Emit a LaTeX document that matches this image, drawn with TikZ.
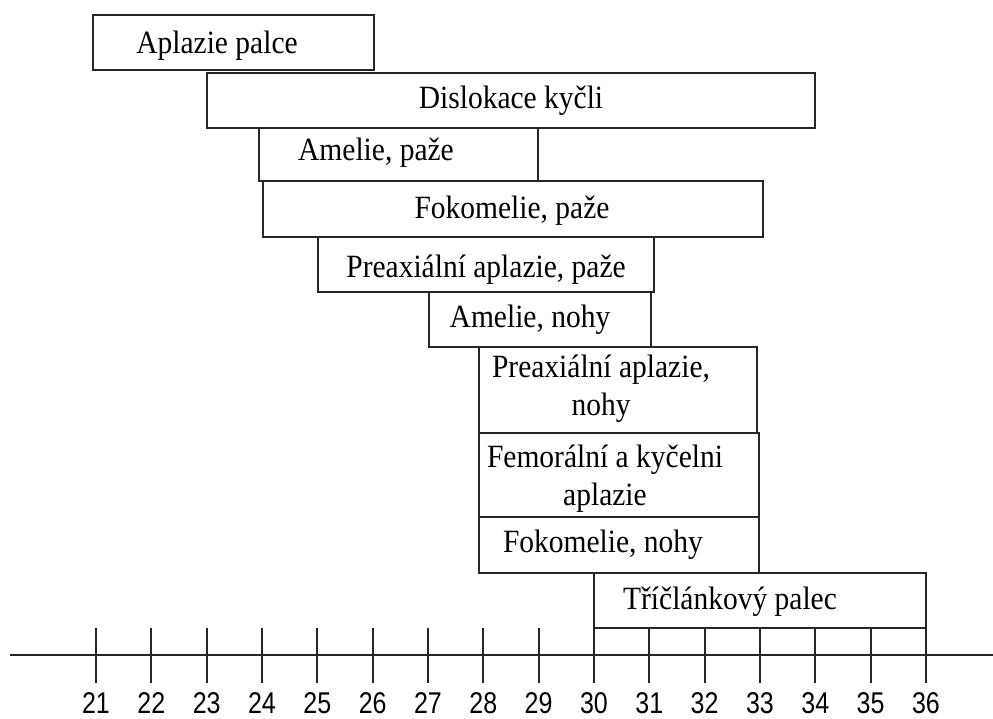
\documentclass[tikz,border=0pt]{standalone}
\usepackage{graphicx}
\usepackage{fontspec}
\setmainfont{Liberation Serif}
\newfontfamily\axisfont{Liberation Sans}
\usetikzlibrary{positioning}

% the source text is a little taller than wide
\newcommand{\tall}[1]{\scalebox{1}[1.1]{#1}}

\tikzset{
  bar/.style={draw=black!85, line width=2.2pt},
  lbl/.style={anchor=base, inner sep=0pt, align=center, font=\fontsize{29.5}{38}\selectfont},
  tick/.style={draw=black!85, line width=2pt},
  num/.style={anchor=base, inner sep=0pt, font=\axisfont\fontsize{25}{25}\selectfont}
}

\begin{document}
\begin{tikzpicture}[x=1pt,y=-1pt]
\useasboundingbox (0,0) rectangle (993,718);

% time bars
\draw[bar] (93,15) rectangle (374,70);
\draw[bar] (207,73) rectangle (815,128);
\draw[bar] (259,128) rectangle (538,181);
\draw[bar] (263,181) rectangle (763,237);
\draw[bar] (318,237) rectangle (654,292);
\draw[bar] (429,292) rectangle (651,347);
\draw[bar] (479,347) rectangle (757,433);
\draw[bar] (479,433) rectangle (759,517);
\draw[bar] (479,517) rectangle (759,573);
\draw[bar] (594,573) rectangle (926,628);

% base is the last line of a node
\node[lbl] (palce) at (217,53) {\tall{Aplazie palce}};
\node[lbl] (kycli) at (511,108) {\tall{Dislokace kyčli}};
\node[lbl] (amepaze) at (376,160) {\tall{Amelie, paže}};
\node[lbl] (fokpaze) at (512,218) {\tall{Fokomelie, paže}};
\node[lbl] (prepaze) at (486,277) {\tall{Preaxiální aplazie, paže}};
\node[lbl] (amenohy) at (530,327) {\tall{Amelie, nohy}};
\node[lbl] (prenohy) at (601,415) {\tall{Preaxiální aplazie,}\\ \tall{nohy}};
\node[lbl] (femor) at (605,505) {\tall{Femorální a kyčelni}\\ \tall{aplazie}};
\node[lbl] (foknohy) at (603,552) {\tall{Fokomelie, nohy}};
\node[lbl] (triclan) at (730,609) {\tall{Tříčlánkový palec}};

% axis
\coordinate (axl) at (10,655);
\coordinate (axr) at (993,655);
\draw[tick] (axl) -- (axr);

\foreach \i in {21,...,36} {
\draw[tick] ({96+(\i-21)*55.33},628) -- ({96+(\i-21)*55.33},683);
\node[num] (w\i) at ({96+(\i-21)*55.33},713) {\scalebox{1}[1.2]{\i}};
}

\end{tikzpicture}
\end{document}
